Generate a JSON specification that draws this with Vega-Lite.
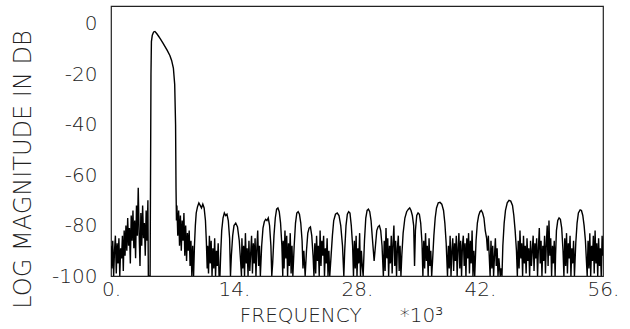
{
"$schema":"https://vega.github.io/schema/vega-lite/v6.json",
"width":492,"height":270,
"autosize":{"type":"none"},
"padding":{"left":111,"top":6,"right":27,"bottom":53},
"background":"white",
"config":{"view":{"stroke":"#222","strokeWidth":1.2},"font":"DejaVu Sans"},
"data":{"values":[
{"f":0.0,"d":-88},{"f":0.1,"d":-97},{"f":0.2,"d":-86},{"f":0.3,"d":-100},{"f":0.4,"d":-90},{"f":0.5,"d":-84},{"f":0.6,"d":-99},{"f":0.7,"d":-87},{"f":0.8,"d":-95},{"f":0.9,"d":-85},{"f":1.0,"d":-100},{"f":1.1,"d":-89},{"f":1.2,"d":-93},{"f":1.3,"d":-84},{"f":1.4,"d":-98},{"f":1.5,"d":-82},{"f":1.6,"d":-92},{"f":1.7,"d":-80},{"f":1.8,"d":-90},{"f":1.9,"d":-77},{"f":2.0,"d":-88},{"f":2.1,"d":-81},{"f":2.2,"d":-95},{"f":2.3,"d":-76},{"f":2.4,"d":-86},{"f":2.5,"d":-74},{"f":2.6,"d":-89},{"f":2.7,"d":-78},{"f":2.8,"d":-93},{"f":2.9,"d":-72},{"f":3.0,"d":-84},{"f":3.1,"d":-65},{"f":3.2,"d":-83},{"f":3.3,"d":-96},{"f":3.4,"d":-75},{"f":3.5,"d":-88},{"f":3.6,"d":-72},{"f":3.7,"d":-85},{"f":3.8,"d":-79},{"f":3.9,"d":-92},{"f":4.0,"d":-74},{"f":4.1,"d":-86},{"f":4.2,"d":-70},{"f":4.25,"d":-100},{"f":4.45,"d":-100},
{"f":4.5,"d":-60},{"f":4.55,"d":-20},{"f":4.6,"d":-7},{"f":4.7,"d":-4.5},{"f":4.85,"d":-3.2},{"f":5.0,"d":-3},{"f":5.2,"d":-3.8},{"f":5.4,"d":-4.8},{"f":5.6,"d":-5.8},{"f":5.9,"d":-7.5},{"f":6.15,"d":-9},{"f":6.4,"d":-10.5},{"f":6.7,"d":-12.5},{"f":6.9,"d":-14.5},{"f":7.1,"d":-17.5},{"f":7.25,"d":-24},{"f":7.35,"d":-40},{"f":7.4,"d":-65},{"f":7.45,"d":-78},
{"f":7.5,"d":-72},{"f":7.6,"d":-84},{"f":7.7,"d":-74},{"f":7.8,"d":-88},{"f":7.9,"d":-76},{"f":8.0,"d":-90},{"f":8.1,"d":-78},{"f":8.2,"d":-86},{"f":8.3,"d":-75},{"f":8.4,"d":-92},{"f":8.5,"d":-80},{"f":8.6,"d":-94},{"f":8.7,"d":-83},{"f":8.8,"d":-90},{"f":8.9,"d":-82},{"f":9.0,"d":-96},{"f":9.1,"d":-86},{"f":9.2,"d":-100},{"f":9.3,"d":-88},
{"f":9.4,"d":-100},{"f":9.5,"d":-88},{"f":9.6,"d":-80},{"f":9.7,"d":-75},{"f":9.85,"d":-72.5},{"f":10.0,"d":-71},{"f":10.15,"d":-72},{"f":10.3,"d":-73},{"f":10.45,"d":-71.5},{"f":10.6,"d":-73},{"f":10.75,"d":-78},{"f":10.85,"d":-86},{"f":10.95,"d":-97},
{"f":11.0,"d":-88},{"f":11.1,"d":-99},{"f":11.2,"d":-84},{"f":11.3,"d":-95},{"f":11.4,"d":-86},{"f":11.5,"d":-100},{"f":11.6,"d":-89},{"f":11.7,"d":-97},{"f":11.8,"d":-85},{"f":11.9,"d":-100},{"f":12.0,"d":-90},{"f":12.1,"d":-96},{"f":12.2,"d":-87},{"f":12.3,"d":-100},
{"f":12.4,"d":-100},{"f":12.5,"d":-90},{"f":12.6,"d":-82},{"f":12.75,"d":-77},{"f":12.9,"d":-75},{"f":13.05,"d":-76},{"f":13.2,"d":-75.5},{"f":13.35,"d":-78},{"f":13.5,"d":-85},{"f":13.6,"d":-100},
{"f":13.7,"d":-92},{"f":13.85,"d":-84},{"f":14.0,"d":-80},{"f":14.2,"d":-79},{"f":14.4,"d":-80.5},{"f":14.6,"d":-86},{"f":14.75,"d":-94},{"f":14.85,"d":-100},
{"f":14.9,"d":-85},{"f":15.0,"d":-97},{"f":15.1,"d":-88},{"f":15.2,"d":-100},{"f":15.3,"d":-83},{"f":15.4,"d":-95},{"f":15.5,"d":-89},{"f":15.6,"d":-100},{"f":15.7,"d":-86},{"f":15.8,"d":-98},{"f":15.9,"d":-91},{"f":16.0,"d":-84},{"f":16.1,"d":-99},{"f":16.2,"d":-87},{"f":16.3,"d":-95},{"f":16.4,"d":-85},{"f":16.5,"d":-100},{"f":16.6,"d":-89},{"f":16.7,"d":-82},{"f":16.8,"d":-96},{"f":16.9,"d":-88},
{"f":17.0,"d":-100},{"f":17.15,"d":-88},{"f":17.3,"d":-81},{"f":17.45,"d":-78.5},{"f":17.6,"d":-77.5},{"f":17.75,"d":-78},{"f":17.9,"d":-77},{"f":18.05,"d":-80},{"f":18.2,"d":-88},{"f":18.3,"d":-100},
{"f":18.4,"d":-95},{"f":18.55,"d":-84},{"f":18.7,"d":-77},{"f":18.85,"d":-73.5},{"f":19.0,"d":-73},{"f":19.15,"d":-74.5},{"f":19.3,"d":-79},{"f":19.45,"d":-88},{"f":19.55,"d":-100},
{"f":19.6,"d":-86},{"f":19.7,"d":-97},{"f":19.8,"d":-82},{"f":19.9,"d":-93},{"f":20.0,"d":-84},{"f":20.1,"d":-100},{"f":20.2,"d":-87},{"f":20.3,"d":-96},{"f":20.4,"d":-83},{"f":20.5,"d":-99},{"f":20.6,"d":-88},
{"f":20.7,"d":-100},{"f":20.85,"d":-88},{"f":21.0,"d":-79},{"f":21.15,"d":-75},{"f":21.3,"d":-74.5},{"f":21.45,"d":-75.5},{"f":21.6,"d":-79},{"f":21.75,"d":-86},{"f":21.85,"d":-97},
{"f":21.95,"d":-90},{"f":22.1,"d":-100},{"f":22.25,"d":-90},{"f":22.4,"d":-83},{"f":22.55,"d":-81},{"f":22.7,"d":-80.5},{"f":22.85,"d":-84},{"f":23.0,"d":-92},{"f":23.1,"d":-100},
{"f":23.2,"d":-87},{"f":23.3,"d":-99},{"f":23.4,"d":-84},{"f":23.5,"d":-94},{"f":23.6,"d":-88},{"f":23.7,"d":-100},{"f":23.8,"d":-82},{"f":23.9,"d":-96},{"f":24.0,"d":-86},{"f":24.1,"d":-92},{"f":24.2,"d":-84},{"f":24.3,"d":-100},{"f":24.4,"d":-89},{"f":24.5,"d":-95},{"f":24.6,"d":-85},{"f":24.7,"d":-100},{"f":24.8,"d":-90},
{"f":24.9,"d":-100},{"f":25.05,"d":-92},{"f":25.2,"d":-84},{"f":25.35,"d":-78},{"f":25.55,"d":-75.5},{"f":25.75,"d":-75},{"f":25.95,"d":-76},{"f":26.15,"d":-80},{"f":26.35,"d":-88},{"f":26.5,"d":-100},
{"f":26.6,"d":-90},{"f":26.75,"d":-80},{"f":26.9,"d":-75.5},{"f":27.05,"d":-74.5},{"f":27.2,"d":-75},{"f":27.35,"d":-80},{"f":27.5,"d":-88},{"f":27.6,"d":-100},
{"f":27.7,"d":-86},{"f":27.8,"d":-97},{"f":27.9,"d":-84},{"f":28.0,"d":-100},{"f":28.1,"d":-89},{"f":28.2,"d":-95},{"f":28.3,"d":-83},{"f":28.4,"d":-100},{"f":28.5,"d":-90},{"f":28.6,"d":-96},
{"f":28.7,"d":-100},{"f":28.85,"d":-86},{"f":29.0,"d":-77},{"f":29.15,"d":-74},{"f":29.3,"d":-73.5},{"f":29.45,"d":-74.5},{"f":29.6,"d":-78},{"f":29.75,"d":-85},{"f":29.95,"d":-94},
{"f":30.1,"d":-88},{"f":30.25,"d":-82},{"f":30.4,"d":-80.5},{"f":30.55,"d":-80},{"f":30.7,"d":-82},{"f":30.85,"d":-88},{"f":31.0,"d":-100},
{"f":31.1,"d":-86},{"f":31.2,"d":-98},{"f":31.3,"d":-81},{"f":31.4,"d":-93},{"f":31.5,"d":-85},{"f":31.6,"d":-100},{"f":31.7,"d":-88},{"f":31.8,"d":-95},{"f":31.9,"d":-84},{"f":32.0,"d":-99},{"f":32.1,"d":-87},{"f":32.2,"d":-80},{"f":32.3,"d":-96},{"f":32.4,"d":-86},{"f":32.5,"d":-100},{"f":32.6,"d":-89},{"f":32.7,"d":-84},{"f":32.8,"d":-98},{"f":32.9,"d":-88},{"f":33.0,"d":-100},
{"f":33.1,"d":-92},{"f":33.25,"d":-83},{"f":33.45,"d":-77},{"f":33.65,"d":-74.5},{"f":33.85,"d":-73.5},{"f":34.0,"d":-73},{"f":34.15,"d":-74},{"f":34.3,"d":-76},{"f":34.45,"d":-80},{"f":34.55,"d":-96},{"f":34.65,"d":-82},{"f":34.8,"d":-76},{"f":34.95,"d":-75},{"f":35.1,"d":-75.5},{"f":35.25,"d":-79},{"f":35.4,"d":-87},{"f":35.5,"d":-100},
{"f":35.6,"d":-86},{"f":35.7,"d":-97},{"f":35.8,"d":-83},{"f":35.9,"d":-94},{"f":36.0,"d":-88},{"f":36.1,"d":-100},{"f":36.2,"d":-85},{"f":36.3,"d":-96},{"f":36.4,"d":-90},{"f":36.5,"d":-100},
{"f":36.6,"d":-94},{"f":36.75,"d":-84},{"f":36.9,"d":-77},{"f":37.05,"d":-73},{"f":37.25,"d":-71},{"f":37.45,"d":-70.8},{"f":37.65,"d":-71.5},{"f":37.85,"d":-74},{"f":38.0,"d":-79},{"f":38.15,"d":-87},{"f":38.3,"d":-100},
{"f":38.4,"d":-88},{"f":38.5,"d":-97},{"f":38.6,"d":-84},{"f":38.7,"d":-100},{"f":38.8,"d":-90},{"f":38.9,"d":-85},{"f":39.0,"d":-98},{"f":39.1,"d":-87},{"f":39.2,"d":-94},{"f":39.3,"d":-84},{"f":39.4,"d":-100},{"f":39.5,"d":-89},{"f":39.6,"d":-83},{"f":39.7,"d":-97},{"f":39.8,"d":-86},{"f":39.9,"d":-100},{"f":40.0,"d":-88},{"f":40.1,"d":-84},{"f":40.2,"d":-96},{"f":40.3,"d":-87},{"f":40.4,"d":-100},{"f":40.5,"d":-85},{"f":40.6,"d":-93},{"f":40.7,"d":-83},{"f":40.8,"d":-99},{"f":40.9,"d":-86},{"f":41.0,"d":-95},{"f":41.1,"d":-82},{"f":41.2,"d":-100},{"f":41.3,"d":-90},
{"f":41.4,"d":-100},{"f":41.55,"d":-86},{"f":41.7,"d":-79},{"f":41.85,"d":-76},{"f":42.0,"d":-74.5},{"f":42.15,"d":-74},{"f":42.3,"d":-75},{"f":42.45,"d":-77},{"f":42.6,"d":-82},{"f":42.75,"d":-85},{"f":42.85,"d":-90},{"f":42.95,"d":-84},{"f":43.05,"d":-92},{"f":43.15,"d":-100},
{"f":43.25,"d":-86},{"f":43.35,"d":-97},{"f":43.45,"d":-88},{"f":43.55,"d":-100},{"f":43.65,"d":-92},{"f":43.75,"d":-85},{"f":43.85,"d":-96},{"f":43.95,"d":-89},{"f":44.05,"d":-100},{"f":44.15,"d":-93},{"f":44.3,"d":-100},{"f":44.4,"d":-97},
{"f":44.5,"d":-100},{"f":44.6,"d":-88},{"f":44.75,"d":-79},{"f":44.9,"d":-74},{"f":45.1,"d":-71},{"f":45.3,"d":-70},{"f":45.5,"d":-70.3},{"f":45.7,"d":-72},{"f":45.85,"d":-76},{"f":46.0,"d":-82},{"f":46.15,"d":-90},{"f":46.25,"d":-100},
{"f":46.35,"d":-86},{"f":46.45,"d":-97},{"f":46.55,"d":-82},{"f":46.65,"d":-93},{"f":46.75,"d":-87},{"f":46.85,"d":-100},{"f":46.95,"d":-84},{"f":47.05,"d":-95},{"f":47.15,"d":-88},{"f":47.25,"d":-99},{"f":47.35,"d":-85},{"f":47.45,"d":-94},{"f":47.55,"d":-89},{"f":47.65,"d":-100},{"f":47.75,"d":-86},{"f":47.85,"d":-96},{"f":47.95,"d":-90},{"f":48.05,"d":-84},{"f":48.15,"d":-98},{"f":48.25,"d":-87},{"f":48.35,"d":-93},{"f":48.45,"d":-85},{"f":48.55,"d":-100},{"f":48.65,"d":-89},{"f":48.75,"d":-81},{"f":48.85,"d":-95},{"f":48.95,"d":-86},{"f":49.05,"d":-100},{"f":49.15,"d":-88},{"f":49.25,"d":-94},{"f":49.35,"d":-84},{"f":49.45,"d":-99},{"f":49.55,"d":-87},{"f":49.65,"d":-80},{"f":49.75,"d":-96},{"f":49.85,"d":-78},{"f":49.95,"d":-92},{"f":50.05,"d":-85},{"f":50.15,"d":-100},{"f":50.25,"d":-88},{"f":50.35,"d":-95},{"f":50.45,"d":-86},{"f":50.55,"d":-100},
{"f":50.6,"d":-92},{"f":50.7,"d":-82},{"f":50.85,"d":-78},{"f":51.0,"d":-77},{"f":51.15,"d":-77.5},{"f":51.3,"d":-81},{"f":51.45,"d":-90},{"f":51.55,"d":-100},
{"f":51.65,"d":-85},{"f":51.75,"d":-96},{"f":51.85,"d":-83},{"f":51.95,"d":-99},{"f":52.05,"d":-87},{"f":52.15,"d":-93},{"f":52.25,"d":-84},{"f":52.35,"d":-100},{"f":52.45,"d":-89},{"f":52.55,"d":-95},{"f":52.65,"d":-86},
{"f":52.75,"d":-100},{"f":52.9,"d":-87},{"f":53.05,"d":-79},{"f":53.2,"d":-75},{"f":53.4,"d":-73.8},{"f":53.55,"d":-74},{"f":53.7,"d":-76},{"f":53.85,"d":-80},{"f":54.0,"d":-86},{"f":54.1,"d":-93},{"f":54.2,"d":-100},
{"f":54.3,"d":-86},{"f":54.4,"d":-97},{"f":54.5,"d":-83},{"f":54.6,"d":-100},{"f":54.7,"d":-88},{"f":54.8,"d":-94},{"f":54.9,"d":-84},{"f":55.0,"d":-99},{"f":55.1,"d":-82},{"f":55.2,"d":-95},{"f":55.3,"d":-87},{"f":55.4,"d":-100},{"f":55.5,"d":-85},{"f":55.6,"d":-96},{"f":55.7,"d":-89},{"f":55.8,"d":-100},{"f":55.9,"d":-84},{"f":56.0,"d":-92}
]},
"mark":{"type":"line","color":"#000","strokeWidth":1.4,"clip":true},
"encoding":{
"x":{"field":"f","type":"quantitative","scale":{"domain":[0,56],"nice":false,"zero":false},
"axis":{"values":[0,14,28,42,56],"labelExpr":"datum.value + '.'","grid":false,"ticks":false,"tickSize":0,"domain":false,"labelFont":"DejaVu Sans","labelFontSize":20,"labelFontWeight":200,"labelColor":"#222","labelPadding":3,"labelFlush":false,
"title":"FREQUENCY\u00a0\u00a0\u00a0\u00a0\u00a0\u00a0*10³","titleFont":"DejaVu Sans","titleFontSize":20,"titleFontWeight":200,"titleColor":"#222","titleX":230,"titleY":29,"titleAlign":"center","titleBaseline":"top","titleAnchor":null}},
"y":{"field":"d","type":"quantitative","scale":{"domain":[-100,7.1],"nice":false,"zero":false},
"axis":{"values":[0,-20,-40,-60,-80,-100],"labelExpr":"datum.value + ''","grid":false,"ticks":false,"tickSize":0,"domain":false,"labelFont":"DejaVu Sans","labelFontSize":20,"labelFontWeight":200,"labelColor":"#222","labelPadding":14,"labelFlush":false,
"title":"LOG MAGNITUDE IN DB","titleFont":"DejaVu Sans","titleFontSize":24,"titleFontWeight":200,"titleColor":"#222","titleX":-88,"titleY":163,"titleAngle":-90,"titleAlign":"center","titleBaseline":"middle","titleAnchor":null}}
}
}
